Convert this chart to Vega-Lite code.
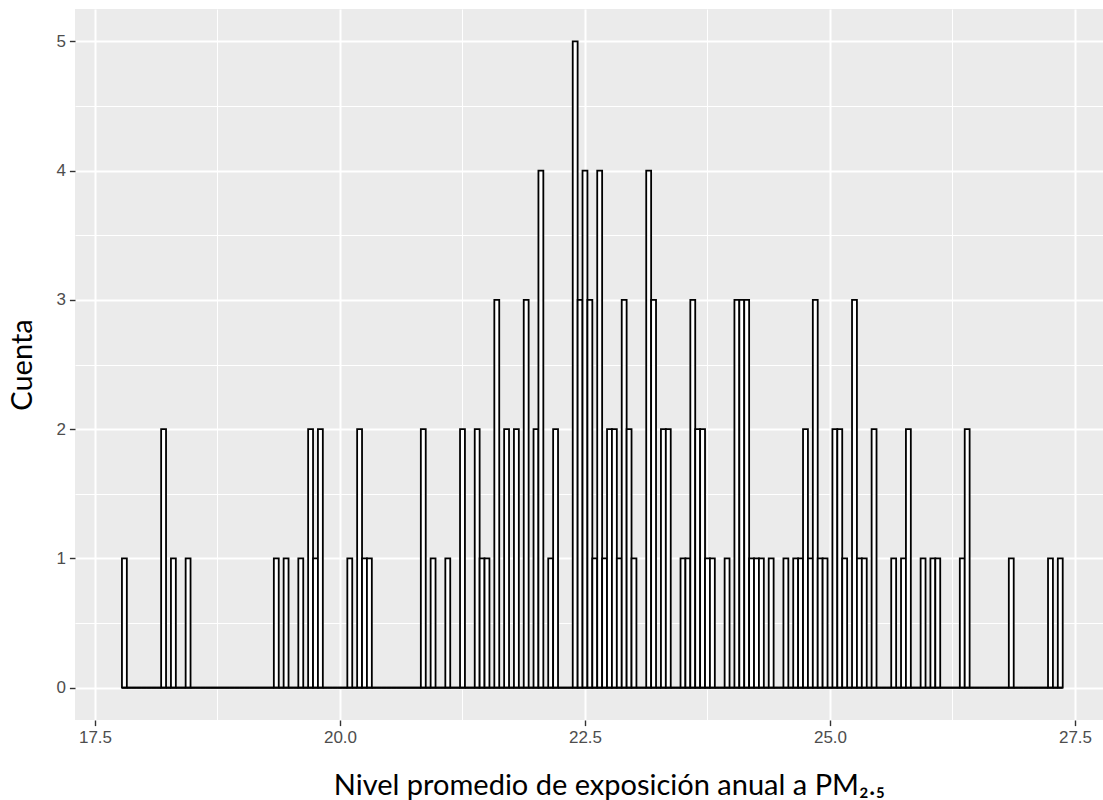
{
"$schema": "https://vega.github.io/schema/vega-lite/v6.json",
"width": 1028, "height": 711,
"autosize": {"type": "none"},
"padding": {"left": 75, "top": 9, "right": 0, "bottom": 80},
"background": "white",
"config": {
 "view": {"fill": "#EBEBEB", "stroke": null},
 "axis": {"domain": false, "gridColor": "white", "labelFont": "Liberation Sans", "labelFontSize": 17, "labelColor": "#4D4D4D", "tickColor": "#333333", "tickSize": 5.6, "tickWidth": 1.4, "labelPadding": 4, "titleFont": "Lato", "titleFontWeight": "normal", "titleColor": "black", "titleFontSize": 29}
},
"data": {"values": [
{"lo":17.775,"hi":17.825,"n":1},{"lo":17.825,"hi":17.875,"n":0},{"lo":17.875,"hi":17.925,"n":0},{"lo":17.925,"hi":17.975,"n":0},{"lo":17.975,"hi":18.025,"n":0},{"lo":18.025,"hi":18.075,"n":0},{"lo":18.075,"hi":18.125,"n":0},{"lo":18.125,"hi":18.175,"n":0},{"lo":18.175,"hi":18.225,"n":2},{"lo":18.225,"hi":18.275,"n":0},
{"lo":18.275,"hi":18.325,"n":1},{"lo":18.325,"hi":18.375,"n":0},{"lo":18.375,"hi":18.425,"n":0},{"lo":18.425,"hi":18.475,"n":1},{"lo":18.475,"hi":18.525,"n":0},{"lo":18.525,"hi":18.575,"n":0},{"lo":18.575,"hi":18.625,"n":0},{"lo":18.625,"hi":18.675,"n":0},{"lo":18.675,"hi":18.725,"n":0},{"lo":18.725,"hi":18.775,"n":0},
{"lo":18.775,"hi":18.825,"n":0},{"lo":18.825,"hi":18.875,"n":0},{"lo":18.875,"hi":18.925,"n":0},{"lo":18.925,"hi":18.975,"n":0},{"lo":18.975,"hi":19.025,"n":0},{"lo":19.025,"hi":19.075,"n":0},{"lo":19.075,"hi":19.125,"n":0},{"lo":19.125,"hi":19.175,"n":0},{"lo":19.175,"hi":19.225,"n":0},{"lo":19.225,"hi":19.275,"n":0},
{"lo":19.275,"hi":19.325,"n":0},{"lo":19.325,"hi":19.375,"n":1},{"lo":19.375,"hi":19.425,"n":0},{"lo":19.425,"hi":19.475,"n":1},{"lo":19.475,"hi":19.525,"n":0},{"lo":19.525,"hi":19.575,"n":0},{"lo":19.575,"hi":19.625,"n":1},{"lo":19.625,"hi":19.675,"n":0},{"lo":19.675,"hi":19.725,"n":2},{"lo":19.725,"hi":19.775,"n":1},
{"lo":19.775,"hi":19.825,"n":2},{"lo":19.825,"hi":19.875,"n":0},{"lo":19.875,"hi":19.925,"n":0},{"lo":19.925,"hi":19.975,"n":0},{"lo":19.975,"hi":20.025,"n":0},{"lo":20.025,"hi":20.075,"n":0},{"lo":20.075,"hi":20.125,"n":1},{"lo":20.125,"hi":20.175,"n":0},{"lo":20.175,"hi":20.225,"n":2},{"lo":20.225,"hi":20.275,"n":1},
{"lo":20.275,"hi":20.325,"n":1},{"lo":20.325,"hi":20.375,"n":0},{"lo":20.375,"hi":20.425,"n":0},{"lo":20.425,"hi":20.475,"n":0},{"lo":20.475,"hi":20.525,"n":0},{"lo":20.525,"hi":20.575,"n":0},{"lo":20.575,"hi":20.625,"n":0},{"lo":20.625,"hi":20.675,"n":0},{"lo":20.675,"hi":20.725,"n":0},{"lo":20.725,"hi":20.775,"n":0},
{"lo":20.775,"hi":20.825,"n":0},{"lo":20.825,"hi":20.875,"n":2},{"lo":20.875,"hi":20.925,"n":0},{"lo":20.925,"hi":20.975,"n":1},{"lo":20.975,"hi":21.025,"n":0},{"lo":21.025,"hi":21.075,"n":0},{"lo":21.075,"hi":21.125,"n":1},{"lo":21.125,"hi":21.175,"n":0},{"lo":21.175,"hi":21.225,"n":0},{"lo":21.225,"hi":21.275,"n":2},
{"lo":21.275,"hi":21.325,"n":0},{"lo":21.325,"hi":21.375,"n":0},{"lo":21.375,"hi":21.425,"n":2},{"lo":21.425,"hi":21.475,"n":1},{"lo":21.475,"hi":21.525,"n":1},{"lo":21.525,"hi":21.575,"n":0},{"lo":21.575,"hi":21.625,"n":3},{"lo":21.625,"hi":21.675,"n":0},{"lo":21.675,"hi":21.725,"n":2},{"lo":21.725,"hi":21.775,"n":0},
{"lo":21.775,"hi":21.825,"n":2},{"lo":21.825,"hi":21.875,"n":0},{"lo":21.875,"hi":21.925,"n":3},{"lo":21.925,"hi":21.975,"n":0},{"lo":21.975,"hi":22.025,"n":2},{"lo":22.025,"hi":22.075,"n":4},{"lo":22.075,"hi":22.125,"n":0},{"lo":22.125,"hi":22.175,"n":1},{"lo":22.175,"hi":22.225,"n":2},{"lo":22.225,"hi":22.275,"n":0},
{"lo":22.275,"hi":22.325,"n":0},{"lo":22.325,"hi":22.375,"n":0},{"lo":22.375,"hi":22.425,"n":5},{"lo":22.425,"hi":22.475,"n":3},{"lo":22.475,"hi":22.525,"n":4},{"lo":22.525,"hi":22.575,"n":3},{"lo":22.575,"hi":22.625,"n":1},{"lo":22.625,"hi":22.675,"n":4},{"lo":22.675,"hi":22.725,"n":1},{"lo":22.725,"hi":22.775,"n":2},
{"lo":22.775,"hi":22.825,"n":2},{"lo":22.825,"hi":22.875,"n":1},{"lo":22.875,"hi":22.925,"n":3},{"lo":22.925,"hi":22.975,"n":2},{"lo":22.975,"hi":23.025,"n":1},{"lo":23.025,"hi":23.075,"n":0},{"lo":23.075,"hi":23.125,"n":0},{"lo":23.125,"hi":23.175,"n":4},{"lo":23.175,"hi":23.225,"n":3},{"lo":23.225,"hi":23.275,"n":0},
{"lo":23.275,"hi":23.325,"n":2},{"lo":23.325,"hi":23.375,"n":2},{"lo":23.375,"hi":23.425,"n":0},{"lo":23.425,"hi":23.475,"n":0},{"lo":23.475,"hi":23.525,"n":1},{"lo":23.525,"hi":23.575,"n":1},{"lo":23.575,"hi":23.625,"n":3},{"lo":23.625,"hi":23.675,"n":2},{"lo":23.675,"hi":23.725,"n":2},{"lo":23.725,"hi":23.775,"n":1},
{"lo":23.775,"hi":23.825,"n":1},{"lo":23.825,"hi":23.875,"n":0},{"lo":23.875,"hi":23.925,"n":0},{"lo":23.925,"hi":23.975,"n":1},{"lo":23.975,"hi":24.025,"n":0},{"lo":24.025,"hi":24.075,"n":3},{"lo":24.075,"hi":24.125,"n":3},{"lo":24.125,"hi":24.175,"n":3},{"lo":24.175,"hi":24.225,"n":1},{"lo":24.225,"hi":24.275,"n":1},
{"lo":24.275,"hi":24.325,"n":1},{"lo":24.325,"hi":24.375,"n":0},{"lo":24.375,"hi":24.425,"n":1},{"lo":24.425,"hi":24.475,"n":0},{"lo":24.475,"hi":24.525,"n":0},{"lo":24.525,"hi":24.575,"n":1},{"lo":24.575,"hi":24.625,"n":0},{"lo":24.625,"hi":24.675,"n":1},{"lo":24.675,"hi":24.725,"n":1},{"lo":24.725,"hi":24.775,"n":2},
{"lo":24.775,"hi":24.825,"n":1},{"lo":24.825,"hi":24.875,"n":3},{"lo":24.875,"hi":24.925,"n":1},{"lo":24.925,"hi":24.975,"n":1},{"lo":24.975,"hi":25.025,"n":0},{"lo":25.025,"hi":25.075,"n":2},{"lo":25.075,"hi":25.125,"n":2},{"lo":25.125,"hi":25.175,"n":1},{"lo":25.175,"hi":25.225,"n":0},{"lo":25.225,"hi":25.275,"n":3},
{"lo":25.275,"hi":25.325,"n":1},{"lo":25.325,"hi":25.375,"n":1},{"lo":25.375,"hi":25.425,"n":0},{"lo":25.425,"hi":25.475,"n":2},{"lo":25.475,"hi":25.525,"n":0},{"lo":25.525,"hi":25.575,"n":0},{"lo":25.575,"hi":25.625,"n":0},{"lo":25.625,"hi":25.675,"n":1},{"lo":25.675,"hi":25.725,"n":0},{"lo":25.725,"hi":25.775,"n":1},
{"lo":25.775,"hi":25.825,"n":2},{"lo":25.825,"hi":25.875,"n":0},{"lo":25.875,"hi":25.925,"n":0},{"lo":25.925,"hi":25.975,"n":1},{"lo":25.975,"hi":26.025,"n":0},{"lo":26.025,"hi":26.075,"n":1},{"lo":26.075,"hi":26.125,"n":1},{"lo":26.125,"hi":26.175,"n":0},{"lo":26.175,"hi":26.225,"n":0},{"lo":26.225,"hi":26.275,"n":0},
{"lo":26.275,"hi":26.325,"n":0},{"lo":26.325,"hi":26.375,"n":1},{"lo":26.375,"hi":26.425,"n":2},{"lo":26.425,"hi":26.475,"n":0},{"lo":26.475,"hi":26.525,"n":0},{"lo":26.525,"hi":26.575,"n":0},{"lo":26.575,"hi":26.625,"n":0},{"lo":26.625,"hi":26.675,"n":0},{"lo":26.675,"hi":26.725,"n":0},{"lo":26.725,"hi":26.775,"n":0},
{"lo":26.775,"hi":26.825,"n":0},{"lo":26.825,"hi":26.875,"n":1},{"lo":26.875,"hi":26.925,"n":0},{"lo":26.925,"hi":26.975,"n":0},{"lo":26.975,"hi":27.025,"n":0},{"lo":27.025,"hi":27.075,"n":0},{"lo":27.075,"hi":27.125,"n":0},{"lo":27.125,"hi":27.175,"n":0},{"lo":27.175,"hi":27.225,"n":0},{"lo":27.225,"hi":27.275,"n":1},
{"lo":27.275,"hi":27.325,"n":0},{"lo":27.325,"hi":27.375,"n":1}
]},
"layer": [
 {
  "mark": {"type": "bar", "opacity": 0},
  "encoding": {
   "x": {"field": "lo", "type": "quantitative", "scale": {"domain": [17.296, 27.786], "nice": false, "zero": false},
         "axis": {"orient": "bottom", "values": [18.75, 21.25, 23.75, 26.25], "grid": true, "gridWidth": 1, "labels": false, "ticks": false, "title": null}},
   "x2": {"field": "hi"},
   "y": {"field": "n", "type": "quantitative", "scale": {"domain": [-0.25, 5.25], "nice": false, "zero": false},
         "axis": {"orient": "left", "values": [0.5, 1.5, 2.5, 3.5, 4.5], "grid": true, "gridWidth": 1, "labels": false, "ticks": false, "title": null}},
   "y2": {"datum": 0}
  }
 },
 {
  "mark": {"type": "bar", "fill": "white", "stroke": "black", "strokeWidth": 1.8},
  "encoding": {
   "x": {"field": "lo", "type": "quantitative", "scale": {"domain": [17.296, 27.786], "nice": false, "zero": false},
         "axis": {"orient": "bottom", "values": [17.5, 20, 22.5, 25, 27.5], "format": ".1f", "grid": true, "gridWidth": 2,
                  "title": "Nivel promedio de exposición anual a PM₂.₅", "titleX": 534, "titleY": 74, "titleBaseline": "alphabetic", "titleAlign": "center"}},
   "x2": {"field": "hi"},
   "y": {"field": "n", "type": "quantitative", "scale": {"domain": [-0.25, 5.25], "nice": false, "zero": false},
         "axis": {"orient": "left", "values": [0, 1, 2, 3, 4, 5], "format": "d", "grid": true, "gridWidth": 2,
                  "title": "Cuenta", "titleX": -53, "titleY": 355.5, "titleAngle": 270, "titleBaseline": "middle", "titleAlign": "center"}},
   "y2": {"datum": 0}
  }
 },
 {
  "mark": {"type": "rule", "color": "black", "strokeWidth": 2},
  "encoding": {
   "x": {"aggregate": "min", "field": "lo", "type": "quantitative", "axis": null},
   "x2": {"aggregate": "max", "field": "hi"},
   "y": {"datum": 0, "type": "quantitative", "axis": null}
  }
 }
],
"resolve": {"axis": {"x": "independent", "y": "independent"}}
}
